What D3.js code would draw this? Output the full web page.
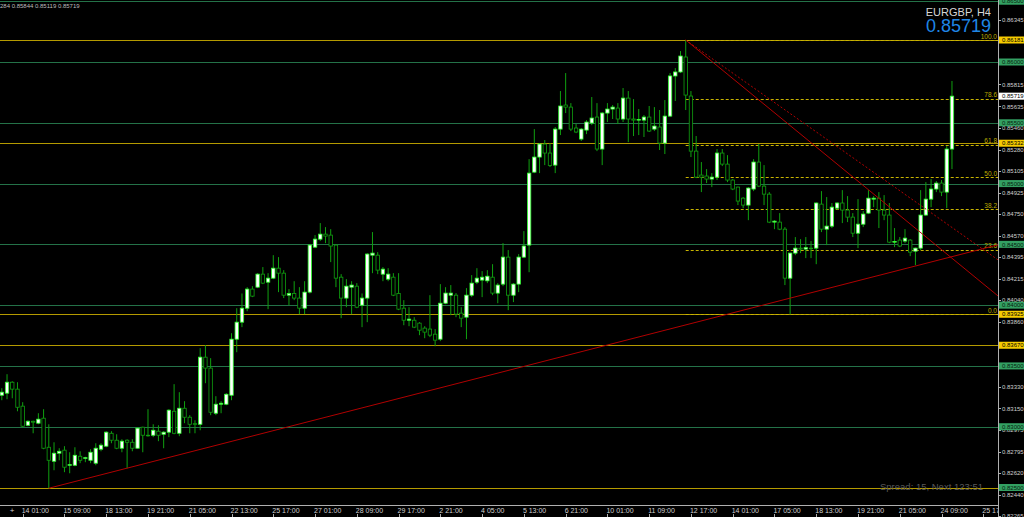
<!DOCTYPE html>
<html><head><meta charset="utf-8">
<script src="https://cdn.jsdelivr.net/npm/d3@7"></script>
<style>html,body{margin:0;padding:0;background:#000;overflow:hidden}svg{display:block}</style>
</head><body><svg id="c" width="1024" height="517"></svg>
<script>
// ---------- DATA ----------
const symbolText = "EURGBP, H4";
const headerText = "284 0.85844 0.85119 0.85719";
const spreadText = "Spread: 15, Next 123:51";
const lastPrice = 0.85719;
const firstBar = -4; // bar index of first candle (bar 0 = "14 01:00")
const opens = [0.83259,0.83276,0.83366,0.83309,0.83169,0.83012,0.83045,0.83029,0.83070,0.82831,0.82716,0.82782,0.82807,0.82683,0.82683,0.82757,0.82740,0.82724,0.82700,0.82815,0.82840,0.82946,0.82889,0.82823,0.82889,0.82872,0.82823,0.82996,0.82930,0.82930,0.82963,0.82938,0.82955,0.83127,0.82946,0.83152,0.83078,0.83025,0.83020,0.83572,0.83482,0.83111,0.83185,0.83185,0.83259,0.83720,0.83860,0.83975,0.84132,0.84148,0.84255,0.84189,0.84222,0.84304,0.84263,0.84082,0.84096,0.84058,0.83975,0.84107,0.84477,0.84543,0.84584,0.84576,0.84494,0.84230,0.84058,0.84148,0.84156,0.84000,0.84058,0.84411,0.84411,0.84255,0.84214,0.84230,0.84096,0.83975,0.83876,0.83876,0.83852,0.83811,0.83803,0.83761,0.83720,0.84016,0.84082,0.84082,0.83934,0.83901,0.84082,0.84189,0.84206,0.84200,0.84230,0.84099,0.84173,0.84395,0.84082,0.84173,0.84395,0.84494,0.85094,0.85218,0.85325,0.85251,0.85152,0.85448,0.85646,0.85629,0.85457,0.85366,0.85440,0.85498,0.85547,0.85284,0.85580,0.85613,0.85621,0.85531,0.85703,0.85531,0.85522,0.85522,0.85547,0.85448,0.85465,0.85333,0.85555,0.85885,0.85918,0.86041,0.85720,0.85267,0.85070,0.85062,0.85037,0.85053,0.85251,0.85160,0.85029,0.84971,0.84880,0.84823,0.84955,0.85177,0.84979,0.84913,0.84683,0.84683,0.84625,0.84222,0.84428,0.84469,0.84461,0.84469,0.84469,0.84831,0.84625,0.84650,0.84798,0.84840,0.84782,0.84724,0.84592,0.84666,0.84757,0.84872,0.84880,0.84782,0.84741,0.84518,0.84535,0.84527,0.84535,0.84444,0.84469,0.84741,0.84872,0.84955,0.85004,0.84930,0.85284];
const highs = [0.83317,0.83432,0.83374,0.83366,0.83202,0.83053,0.83050,0.83111,0.83144,0.83020,0.82872,0.82823,0.82840,0.82790,0.82831,0.82798,0.82753,0.82815,0.82864,0.82864,0.82963,0.82963,0.82938,0.82897,0.82897,0.82897,0.82996,0.83000,0.83144,0.83020,0.83012,0.82963,0.83144,0.83350,0.83284,0.83210,0.83095,0.83053,0.83646,0.83671,0.83564,0.83251,0.83210,0.83276,0.83769,0.83975,0.84096,0.84148,0.84156,0.84263,0.84313,0.84263,0.84411,0.84395,0.84288,0.84132,0.84197,0.84148,0.84197,0.84502,0.84576,0.84675,0.84642,0.84625,0.84502,0.84255,0.84214,0.84197,0.84181,0.84096,0.84428,0.84601,0.84436,0.84313,0.84304,0.84263,0.84263,0.84041,0.83983,0.83901,0.83860,0.83827,0.84082,0.83803,0.84173,0.84148,0.84165,0.84099,0.83983,0.84140,0.84247,0.84304,0.84280,0.84288,0.84337,0.84181,0.84510,0.84453,0.84181,0.84420,0.84609,0.85201,0.85448,0.85333,0.85358,0.85333,0.85465,0.85761,0.85909,0.85662,0.85490,0.85457,0.85522,0.85712,0.85662,0.85588,0.85662,0.85646,0.85662,0.85786,0.85761,0.85695,0.85613,0.85564,0.85638,0.85629,0.85605,0.85687,0.85909,0.85950,0.86090,0.86181,0.85761,0.85391,0.85177,0.85119,0.85086,0.85284,0.85284,0.85234,0.85037,0.84975,0.84889,0.84971,0.85201,0.85325,0.85152,0.84930,0.84699,0.84757,0.84642,0.84432,0.84560,0.84543,0.84560,0.84527,0.84845,0.84938,0.84889,0.84840,0.84848,0.84946,0.84897,0.84757,0.84872,0.84774,0.84946,0.84897,0.84930,0.84905,0.84840,0.84634,0.84560,0.84625,0.84543,0.84473,0.84946,0.85012,0.85037,0.85021,0.85029,0.85308,0.85844];
const lows = [0.83218,0.83226,0.83234,0.83127,0.82996,0.83004,0.82946,0.83020,0.82815,0.82494,0.82642,0.82724,0.82626,0.82617,0.82675,0.82700,0.82708,0.82700,0.82683,0.82798,0.82831,0.82864,0.82815,0.82790,0.82658,0.82798,0.82820,0.82790,0.82918,0.82914,0.82881,0.82823,0.82914,0.82938,0.82922,0.83029,0.82946,0.82946,0.82971,0.83358,0.83095,0.83095,0.83111,0.83177,0.83218,0.83613,0.83819,0.83950,0.84066,0.84140,0.84173,0.83967,0.84214,0.84107,0.84058,0.84000,0.84041,0.83926,0.83926,0.84096,0.84469,0.84527,0.84510,0.84354,0.84148,0.83893,0.83983,0.83926,0.83975,0.83819,0.83860,0.84263,0.84255,0.84197,0.84197,0.84074,0.83959,0.83835,0.83827,0.83811,0.83753,0.83728,0.83737,0.83662,0.83704,0.84008,0.83918,0.83901,0.83819,0.83720,0.84066,0.84173,0.84066,0.84181,0.84082,0.84016,0.84156,0.83959,0.84025,0.84107,0.84387,0.84271,0.85086,0.85086,0.85152,0.85136,0.85086,0.85399,0.85580,0.85432,0.85415,0.85350,0.85407,0.85481,0.85267,0.85152,0.85506,0.85531,0.85490,0.85506,0.85341,0.85391,0.85399,0.85383,0.85424,0.85432,0.85276,0.85243,0.85547,0.85679,0.85909,0.85605,0.85218,0.85045,0.84930,0.85004,0.84971,0.85029,0.85144,0.85012,0.84946,0.84823,0.84798,0.84699,0.84938,0.84971,0.84823,0.84675,0.84625,0.84617,0.84165,0.83925,0.84411,0.84428,0.84387,0.84387,0.84337,0.84601,0.84494,0.84634,0.84782,0.84675,0.84683,0.84560,0.84469,0.84642,0.84749,0.84806,0.84634,0.84699,0.84510,0.84477,0.84477,0.84510,0.84403,0.84329,0.84453,0.84733,0.84806,0.84930,0.84897,0.84798,0.85119];
const closes = [0.83284,0.83366,0.83309,0.83160,0.83004,0.83045,0.83037,0.83062,0.82823,0.82724,0.82782,0.82798,0.82667,0.82688,0.82765,0.82724,0.82745,0.82790,0.82823,0.82848,0.82955,0.82889,0.82823,0.82881,0.82872,0.82823,0.82988,0.82930,0.82925,0.82971,0.82930,0.82955,0.83136,0.82946,0.83152,0.83078,0.83020,0.83020,0.83572,0.83482,0.83119,0.83185,0.83193,0.83267,0.83720,0.83860,0.83975,0.84132,0.84074,0.84255,0.84181,0.84222,0.84304,0.84263,0.84082,0.84096,0.84058,0.83975,0.84107,0.84494,0.84543,0.84584,0.84568,0.84486,0.84222,0.84058,0.84156,0.84165,0.83983,0.84058,0.84420,0.84428,0.84288,0.84296,0.84255,0.84082,0.83967,0.83876,0.83885,0.83819,0.83794,0.83778,0.83753,0.83712,0.84016,0.84099,0.84099,0.83926,0.83893,0.84082,0.84181,0.84222,0.84230,0.84238,0.84099,0.84165,0.84395,0.84082,0.84173,0.84395,0.84486,0.85086,0.85218,0.85325,0.85251,0.85148,0.85448,0.85638,0.85629,0.85448,0.85424,0.85448,0.85506,0.85539,0.85284,0.85580,0.85613,0.85629,0.85531,0.85703,0.85531,0.85522,0.85527,0.85547,0.85432,0.85473,0.85333,0.85555,0.85885,0.85918,0.86049,0.85728,0.85267,0.85053,0.85053,0.85037,0.85053,0.85251,0.85160,0.85029,0.84955,0.84856,0.84823,0.84963,0.85177,0.84979,0.84913,0.84683,0.84691,0.84625,0.84222,0.84428,0.84469,0.84461,0.84473,0.84465,0.84840,0.84625,0.84650,0.84806,0.84840,0.84782,0.84724,0.84592,0.84666,0.84749,0.84880,0.84880,0.84782,0.84741,0.84518,0.84524,0.84486,0.84551,0.84436,0.84469,0.84741,0.84872,0.84955,0.85004,0.84930,0.85284,0.85719];
const timeLabels = ["14 01:00","15 09:00","18 13:00","19 21:00","21 05:00","22 13:00","25 17:00","27 01:00","28 09:00","29 17:00","2 21:00","4 05:00","5 13:00","6 21:00","10 01:00","11 09:00","12 17:00","14 01:00","17 05:00","18 13:00","19 21:00","21 05:00","24 09:00","25 17:00"];
const labelStep = 8;
const priceTicks = ["0.86345","0.85815","0.85635","0.85460","0.85280","0.85105","0.84925","0.84750","0.84570","0.84395","0.84215","0.84040","0.83860","0.83330","0.83150","0.82975","0.82795","0.82620","0.82440","0.82265"];
const roundLevels = [0.865,0.860,0.855,0.850,0.845,0.840,0.835,0.830,0.825];
const goldLevels = [0.86181,0.85332,0.83925,0.83670,0.82494];
const goldLabelLevels = [0.86181,0.85332,0.83925,0.83670];
const fibRatios = [0,23.6,38.2,50,61.8,78.6,100];
const fibHigh = 0.86181, fibLow = 0.83925, fibStartBar = 127;
const trendBars1 = [5,127,127];
const trendPrices1 = [0.82494,0.86181,0.86181];
const trendBars2 = [178,178,178];
const trendPrices2 = [0.84399,0.84386,0.84639];
const trendDashed = [false,false,true];

// ---------- CHART ----------
const W = 1024, H = 517, plotR = 998, plotB = 505;
const svg = d3.select("#c");
svg.append("rect").attr("width",W).attr("height",H).attr("fill","#000");
const x = d3.scaleLinear().domain([0,184]).range([22.7,983.3]);
const y = d3.scaleLinear().domain([0.825,0.86181]).range([487.5,40]);
const font = "'Liberation Sans', Arial, sans-serif";

const defs = svg.append("defs");
defs.append("clipPath").attr("id","plot").append("rect").attr("x",0).attr("y",0).attr("width",plotR).attr("height",plotB);
defs.append("clipPath").attr("id","taxis").append("rect").attr("x",0).attr("y",plotB).attr("width",plotR).attr("height",H-plotB);
const g = svg.append("g").attr("clip-path","url(#plot)");
const crisp = v => Math.round(v)+0.5;

// round-number lines
g.selectAll(".rl").data(roundLevels).join("line")
  .attr("x1",0).attr("x2",plotR).attr("y1",d=>crisp(y(d))).attr("y2",d=>crisp(y(d)))
  .attr("stroke","#247248").attr("stroke-width",1);
// gold lines
g.selectAll(".gl").data(goldLevels).join("line")
  .attr("x1",0).attr("x2",plotR).attr("y1",d=>crisp(y(d))).attr("y2",d=>crisp(y(d)))
  .attr("stroke","#b49a00").attr("stroke-width",1);
// fib
const fibPrice = r => fibLow + (fibHigh-fibLow)*r/100;
g.selectAll(".fl").data(fibRatios).join("line")
  .attr("x1",x(fibStartBar)).attr("x2",plotR)
  .attr("y1",d=>crisp(y(fibPrice(d)))).attr("y2",d=>crisp(y(fibPrice(d))))
  .attr("stroke","#c8b400").attr("stroke-width",1).attr("stroke-dasharray","3,2");
g.selectAll(".ft").data(fibRatios).join("text")
  .attr("x",plotR-1).attr("y",d=>y(fibPrice(d))-1.5).attr("text-anchor","end")
  .attr("font-family",font).attr("font-size",6.5).attr("fill","#bcaa00")
  .text(d=>d.toFixed(1));

// candles
const candles = opens.map((o,i)=>({bar:firstBar+i,o,h:highs[i],l:lows[i],c:closes[i]}));
const cg = g.append("g");
cg.selectAll(".wk").data(candles).join("line")
  .attr("x1",d=>x(d.bar)).attr("x2",d=>x(d.bar))
  .attr("y1",d=>y(d.h)).attr("y2",d=>y(d.l))
  .attr("stroke","#10a010").attr("stroke-width",1);
cg.selectAll(".bd").data(candles).join("rect")
  .attr("x",d=>x(d.bar)-1.7).attr("width",3.4)
  .attr("y",d=>Math.min(y(d.o),y(d.c)))
  .attr("height",d=>Math.max(Math.abs(y(d.o)-y(d.c)),0.6))
  .attr("fill",d=>d.c>d.o?"#ffffff":"#000000")
  .attr("stroke",d=>d.c>d.o?"#2cff2c":"#10a010").attr("stroke-width",0.8);

// trend lines (rays to the right edge)
const endBar = x.invert(plotR);
g.selectAll(".tl").data(trendBars1).join("line")
  .attr("x1",(d,i)=>x(d)).attr("y1",(d,i)=>y(trendPrices1[i]))
  .attr("x2",x(endBar))
  .attr("y2",(d,i)=>{const s=(trendPrices2[i]-trendPrices1[i])/(trendBars2[i]-d);return y(trendPrices1[i]+s*(endBar-d));})
  .attr("stroke","#b00000").attr("stroke-width",1)
  .attr("stroke-dasharray",(d,i)=>trendDashed[i]?"2,2":null);

// spread text
svg.append("text").attr("x",983).attr("y",489.5).attr("text-anchor","end")
  .attr("font-family",font).attr("font-size",9.5).attr("fill","#5a5a5a").text(spreadText);

// header & symbol
svg.append("text").attr("x",0).attr("y",7.5).attr("font-family",font).attr("font-size",6).attr("fill","#bdbdbd").text(headerText);
svg.append("text").attr("x",991).attr("y",16).attr("text-anchor","end").attr("font-family",font).attr("font-size",11).attr("fill","#d6d6d6").text(symbolText);
svg.append("text").attr("x",991).attr("y",32).attr("text-anchor","end").attr("font-family",font).attr("font-size",18).attr("fill","#1f86e6").text(lastPrice.toFixed(5));

// axes lines
svg.append("line").attr("x1",plotR+0.5).attr("x2",plotR+0.5).attr("y1",0).attr("y2",H).attr("stroke","#b0b0b0");
svg.append("line").attr("x1",0).attr("x2",plotR).attr("y1",plotB+0.5).attr("y2",plotB+0.5).attr("stroke","#b0b0b0");

// price axis ticks & labels
const pa = svg.append("g");
pa.selectAll(".pt").data(priceTicks).join("line")
  .attr("x1",plotR).attr("x2",plotR+3).attr("y1",d=>crisp(y(+d))).attr("y2",d=>crisp(y(+d))).attr("stroke","#b0b0b0");
pa.selectAll(".pl").data(priceTicks).join("text")
  .attr("x",plotR+4).attr("y",d=>y(+d)+2.2).attr("font-family",font).attr("font-size",6).attr("fill","#cfcfcf").text(d=>d);
// highlighted labels
function tag(level, bg, fg){
  pa.append("rect").attr("x",plotR+1).attr("y",y(level)-3.5).attr("width",W-plotR-1).attr("height",7).attr("fill",bg);
  pa.append("text").attr("x",plotR+4).attr("y",y(level)+2.2).attr("font-family",font).attr("font-size",6).attr("fill",fg).text(level.toFixed(5));
}
roundLevels.forEach(l=>tag(l,"#33a062","#06200f"));
goldLabelLevels.forEach(l=>tag(l,"#f7cc00","#000"));
tag(lastPrice,"#ffffff","#000");

// time axis
const ta = svg.append("g").attr("clip-path","url(#taxis)");
ta.selectAll(".tt").data(timeLabels).join("line")
  .attr("x1",(d,i)=>crisp(x(i*labelStep))).attr("x2",(d,i)=>crisp(x(i*labelStep)))
  .attr("y1",514).attr("y2",517).attr("stroke","#b0b0b0");
ta.selectAll(".tx").data(timeLabels).join("text")
  .attr("x",(d,i)=>x(i*labelStep)-1).attr("y",513.3)
  .attr("font-family",font).attr("font-size",7).attr("fill","#cfcfcf").text(d=>d);
svg.append("text").attr("x",12).attr("y",513).attr("text-anchor","middle").attr("font-family",font).attr("font-size",8).attr("fill","#cfcfcf").text("+");
</script></body></html>
